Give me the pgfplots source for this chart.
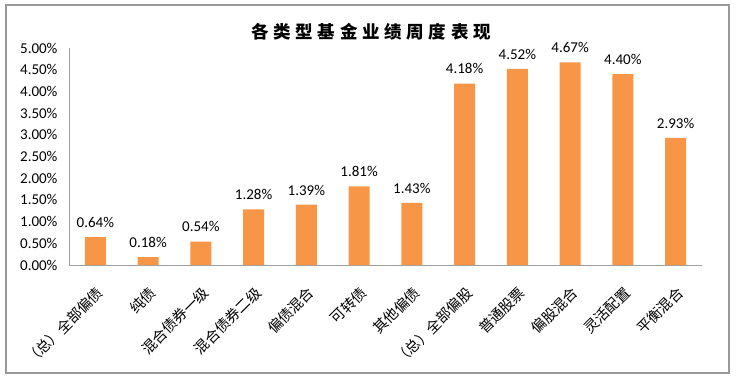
\documentclass[border=0pt]{standalone}
\usepackage{fontspec}
\usepackage{pgfplots}
\pgfplotsset{compat=1.18}
\setmainfont{Carlito}
\newfontfamily\cjk{Noto Sans CJK SC}
\newfontfamily\cjktitle[LetterSpace=27]{Noto Sans CJK SC}
\definecolor{barorange}{HTML}{F79646}
\definecolor{axgray}{HTML}{A0A0A0}
\begin{document}
\begin{tikzpicture}[x=1pt,y=1pt]
\path[use as bounding box] (0,0) rectangle (736,-381);
\draw[black!40, line width=1.3pt] (6,-5) rectangle (729,-373);
\node[font=\cjktitle\bfseries\fontsize{17.5}{20}\selectfont] at (371,-32) {各类型基金业绩周度表现};
\begin{axis}[
  at={(69pt,-265pt)}, anchor=south west,
  scale only axis, width=633pt, height=217pt,
  xmin=-0.5, xmax=11.5, ymin=0, ymax=5,
  axis x line=bottom, axis y line=left,
  axis line style={-, axgray, line width=0.8pt},
  major tick length=0pt,
  xtick={0,...,11},
  xticklabels={（总）全部偏债,纯债,混合债券一级,混合债券二级,偏债混合,可转债,其他偏债,（总）全部偏股,普通股票,偏股混合,灵活配置,平衡混合},
  xticklabel style={xshift=0pt, yshift=-20pt, rotate=45, anchor=north east, font=\cjk\fontsize{14.5}{16}\selectfont, inner sep=0pt},
  ytick={0,0.5,...,5},
  yticklabel={\pgfmathprintnumber[fixed,fixed zerofill,precision=2]{\tick}\%},
  yticklabel style={font=\fontsize{15}{17}\selectfont, /pgf/number format/assume math mode=true, xshift=-8pt},
  ybar, bar width=21pt,
  nodes near coords={\pgfmathprintnumber[fixed,fixed zerofill,precision=2]{\pgfplotspointmeta}\%},
  nodes near coords style={font=\fontsize{15}{17}\selectfont, /pgf/number format/assume math mode=true, anchor=south, yshift=6pt},
  point meta=explicit,
  clip=false,
]
\addplot[fill=barorange, draw=none] coordinates {
  (0,0.64) [0.64]
  (1,0.18) [0.18]
  (2,0.54) [0.54]
  (3,1.28) [1.28]
  (4,1.39) [1.39]
  (5,1.81) [1.81]
  (6,1.43) [1.43]
  (7,4.18) [4.18]
  (8,4.52) [4.52]
  (9,4.67) [4.67]
  (10,4.40) [4.40]
  (11,2.93) [2.93]
};
\end{axis}
\end{tikzpicture}
\end{document}
